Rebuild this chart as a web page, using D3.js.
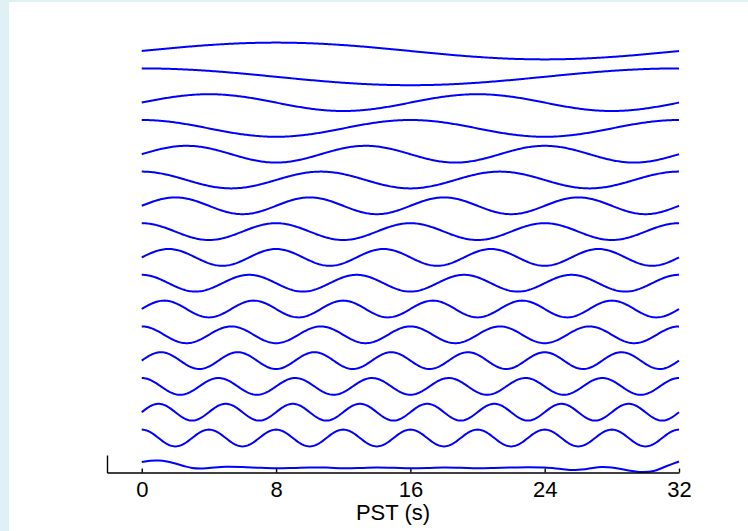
<!DOCTYPE html>
<html><head><meta charset="utf-8">
<script src="https://cdn.jsdelivr.net/npm/d3@7"></script>
<style>html,body{margin:0;padding:0;background:#fff;} svg{display:block;}</style>
</head><body><svg id="chart" width="748" height="531"></svg>
<script>
// ---- data ----
const harmonics = [1, 2, 3, 4, 5, 6, 7, 8];          // cycles per 32 s window
const basisKinds = ["sin", "cos"];                   // each harmonic drawn as sine then cosine
const waveAmplitude = 0.325;                         // amplitude of each basis function (row units)
const periodLength = 32;                             // PST window (s)
const xTicks = [0, 8, 16, 24, 32];
const xLabel = "PST (s)";
// bottom (constant / hanning-like) term
const bottomTimes  = [0, 0.5, 1, 1.5, 2, 2.5, 3, 3.5, 4, 5, 6, 7, 8, 9, 10, 11, 12, 13, 14, 15, 16, 17, 18, 19, 20, 21, 22, 23, 24, 25, 25.7, 26.5, 27.4, 28.2, 29, 29.8, 30.5, 31.2, 32];
const bottomValues = [0.070, 0.120, 0.128, 0.089, 0.012, -0.085, -0.163, -0.182, -0.163, -0.116, -0.124, -0.155, -0.174, -0.163, -0.143, -0.147, -0.171, -0.163, -0.143, -0.155, -0.171, -0.163, -0.143, -0.155, -0.174, -0.163, -0.143, -0.132, -0.143, -0.202, -0.240, -0.202, -0.124, -0.163, -0.260, -0.318, -0.279, -0.105, 0.089];
const bottomYLimits = [-0.34, 0.34];

// ---- drawing ----
const svg = d3.select("#chart");
svg.append("rect").attr("x", 0).attr("y", 0).attr("width", 748).attr("height", 531).attr("fill", "#ffffff");
svg.append("rect").attr("x", 0).attr("y", 0).attr("width", 9).attr("height", 531).attr("fill", "#dff1f4");
svg.append("rect").attr("x", 0).attr("y", 0).attr("width", 748).attr("height", 2).attr("fill", "#dff1f4");

const x = d3.scaleLinear().domain([-2.07, 32]).range([107, 679]);
const y = d3.scaleLinear().domain([0, 16]).range([463.8, 51]);

const sampleTimes = d3.range(0, periodLength + 0.0001, 0.08);
const rows = [];
harmonics.forEach(k => {
  basisKinds.forEach(kind => {
    rows.push({k, kind});
  });
});
const nRows = rows.length; // 16
const line = d3.line().x(d => x(d[0])).y(d => y(d[1]));

rows.forEach((r, i) => {
  const offset = nRows - i;
  const pts = sampleTimes.map(t => {
    const ph = 2 * Math.PI * r.k * t / periodLength;
    const v = r.kind === "sin" ? Math.sin(ph) : Math.cos(ph);
    return [t, offset + waveAmplitude * v];
  });
  svg.append("path").datum(pts)
    .attr("d", line)
    .attr("fill", "none")
    .attr("stroke", "#0000ff")
    .attr("stroke-width", 2)
    .attr("stroke-linejoin", "round");
});

// bottom axes
const bottomLine = d3.line().curve(d3.curveCatmullRom.alpha(0.5))
  .x(d => x(d[0])).y(d => y(d[1]));
svg.append("path").datum(bottomTimes.map((t, i) => [t, bottomValues[i]]))
  .attr("d", bottomLine)
  .attr("fill", "none")
  .attr("stroke", "#0000ff")
  .attr("stroke-width", 2);

const xAxis = d3.axisBottom(x).tickValues(xTicks).tickSize(-4).tickSizeOuter(0).tickPadding(9);
const gx = svg.append("g").attr("transform", `translate(0,${y(bottomYLimits[0])})`).call(xAxis);
gx.selectAll("path, line").attr("stroke", "#000").attr("stroke-width", 1.4);
gx.selectAll("text").attr("font-family", "'Liberation Sans', Arial, sans-serif").attr("font-size", 22).attr("fill", "#000");

const yb = d3.scaleLinear().domain(bottomYLimits).range([y(bottomYLimits[0]), y(bottomYLimits[1])]);
const gy = svg.append("g").attr("transform", `translate(${x.range()[0]},0)`)
  .call(d3.axisLeft(yb).tickValues([]).tickSizeOuter(0));
gy.selectAll("path").attr("stroke", "#000").attr("stroke-width", 1.4);

svg.append("text")
  .attr("x", (x.range()[0] + x.range()[1]) / 2)
  .attr("y", 520)
  .attr("text-anchor", "middle")
  .attr("font-family", "'Liberation Sans', Arial, sans-serif")
  .attr("font-size", 22)
  .attr("fill", "#000")
  .text(xLabel);
</script>
</body></html>
